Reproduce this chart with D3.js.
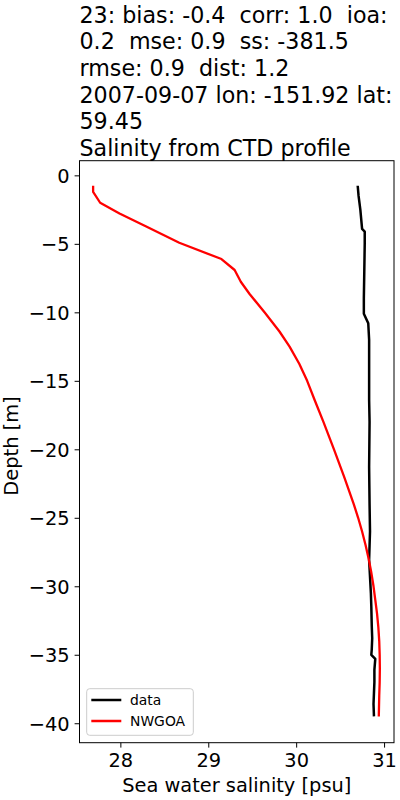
<!DOCTYPE html>
<html>
<head>
<meta charset="utf-8">
<script src="https://cdn.jsdelivr.net/npm/d3@7"></script>
<style>
  body { margin: 0; background: #fff; }
  text { font-family: "DejaVu Sans", sans-serif; white-space: pre; }
</style>
</head>
<body>
<svg id="chart"></svg>
<script>
// title lines
const titleLines = [
  "23: bias: -0.4  corr: 1.0  ioa:",
  "0.2  mse: 0.9  ss: -381.5",
  "rmse: 0.9  dist: 1.2",
  "2007-09-07 lon: -151.92 lat:",
  "59.45",
  "Salinity from CTD profile"
];

// model profile (NWGOA)
const modelDepth = [-0.76, -1.2, -2.0, -2.78, -3.75, -4.92, -6.11, -6.91, -7.77, -8.66, -10.0, -11.4, -12.5, -13.75, -15.0, -16.4, -18.0, -20.0, -22.0, -23.0, -24.0, -25.0, -26.0, -27.0, -28.0, -29.0, -30.0, -31.0, -32.0, -33.0, -34.0, -35.0, -36.0, -37.0, -38.0, -39.5];
const modelSal = [27.69, 27.69, 27.77, 27.99, 28.30, 28.67, 29.15, 29.30, 29.37, 29.47, 29.64, 29.81, 29.925, 30.035, 30.125, 30.21, 30.31, 30.43, 30.545, 30.60, 30.655, 30.705, 30.75, 30.79, 30.825, 30.855, 30.88, 30.90, 30.92, 30.935, 30.945, 30.95, 30.952, 30.95, 30.945, 30.94];

// observed CTD profile
const obsDepth = [-0.76, -1.5, -2.5, -3.9, -4.1, -5.0, -7.0, -9.0, -10.1, -10.8, -12.0, -14.0, -16.4, -18.0, -21.3, -24.0, -26.0, -28.1, -30.5, -31.5, -32.9, -33.8, -34.6, -35.0, -35.3, -36.1, -37.0, -37.8, -38.6, -39.5];
const obsSal = [30.70, 30.71, 30.73, 30.75, 30.78, 30.78, 30.775, 30.77, 30.77, 30.82, 30.83, 30.83, 30.83, 30.835, 30.83, 30.835, 30.84, 30.83, 30.85, 30.855, 30.86, 30.865, 30.86, 30.855, 30.90, 30.89, 30.89, 30.885, 30.88, 30.885];

const xTicks = [28, 29, 30, 31];
const yTicks = [0, -5, -10, -15, -20, -25, -30, -35, -40];
const legendNames = ["data", "NWGOA"];
const legendColors = ["#000000", "#ff0000"];

let width = 400;
let height = 800;
let plotLeft = 79.5, plotRight = 394, plotTop = 160.7, plotBottom = 742.7;

var svg = d3.select("#chart").attr("width", width).attr("height", height);

let x = d3.scaleLinear().domain([27.535, 31.113]).range([plotLeft, plotRight]);
let y = d3.scaleLinear().domain([-41.42, 1.07]).range([plotBottom, plotTop]);

const fmt = d => (d < 0 ? "\u2212" + Math.abs(d) : "" + d);

//title
svg.append("g")
  .selectAll("text")
  .data(titleLines)
  .join("text")
  .attr("x", plotLeft)
  .attr("y", (d, i) => 22.5 + i * 26.7)
  .style("font-size", "22.2px")
  .attr("fill", "#000")
  .text(d => d);

//axes
let xAxis = svg.append("g")
  .attr("transform", `translate(0,${plotBottom})`)
  .call(d3.axisBottom(x).tickValues(xTicks).tickSize(4.9).tickPadding(4.9).tickSizeOuter(0).tickFormat(fmt));
let yAxis = svg.append("g")
  .attr("transform", `translate(${plotLeft},0)`)
  .call(d3.axisLeft(y).tickValues(yTicks).tickSize(4.9).tickPadding(4.9).tickSizeOuter(0).tickFormat(fmt));

[xAxis, yAxis].forEach(a => {
  a.select(".domain").remove();
  a.selectAll(".tick line").attr("stroke", "#000").attr("stroke-width", 1);
  a.selectAll(".tick text").style("font-size", "19.4px").attr("fill", "#000").attr("font-family", null);
});
xAxis.selectAll(".tick text").attr("dy", "0.73em");
yAxis.selectAll(".tick text").attr("dy", "0.36em");

//lines
let line = d3.line().x(d => x(d[1])).y(d => y(d[0]));

svg.append("path")
  .datum(d3.zip(obsDepth, obsSal))
  .attr("d", line)
  .attr("fill", "none")
  .attr("stroke", legendColors[0])
  .attr("stroke-width", 2.5)
  .attr("stroke-linejoin", "round");

svg.append("path")
  .datum(d3.zip(modelDepth, modelSal))
  .attr("d", line)
  .attr("fill", "none")
  .attr("stroke", legendColors[1])
  .attr("stroke-width", 2.3)
  .attr("stroke-linejoin", "round");

//frame
svg.append("rect")
  .attr("x", plotLeft)
  .attr("y", plotTop)
  .attr("width", plotRight - plotLeft)
  .attr("height", plotBottom - plotTop)
  .attr("fill", "none")
  .attr("stroke", "#000")
  .attr("stroke-width", 1);

//axis labels
svg.append("text")
  .attr("x", (plotLeft + plotRight) / 2)
  .attr("y", 791.5)
  .attr("text-anchor", "middle")
  .style("font-size", "19.4px")
  .text("Sea water salinity [psu]");

svg.append("text")
  .attr("transform", `translate(18,${446}) rotate(-90)`)
  .attr("text-anchor", "middle")
  .style("font-size", "19.4px")
  .text("Depth [m]");

//legend
const leg = svg.append("g").attr("transform", "translate(86.7,688.7)");
leg.append("rect")
  .attr("width", 106.6)
  .attr("height", 46.6)
  .attr("rx", 3)
  .attr("fill", "#fff")
  .attr("fill-opacity", 0.8)
  .attr("stroke", "#cccccc")
  .attr("stroke-width", 1);
const items = leg.selectAll("g.item")
  .data(legendNames)
  .join("g")
  .attr("class", "item")
  .attr("transform", (d, i) => `translate(0,${11.3 + i * 21})`);
items.append("line")
  .attr("x1", 4.6).attr("x2", 34.6)
  .attr("stroke", (d, i) => legendColors[i])
  .attr("stroke-width", 2.5);
items.append("text")
  .attr("x", 43.3)
  .attr("dy", "0.35em")
  .style("font-size", "13.9px")
  .text(d => d);
</script>
</body>
</html>
